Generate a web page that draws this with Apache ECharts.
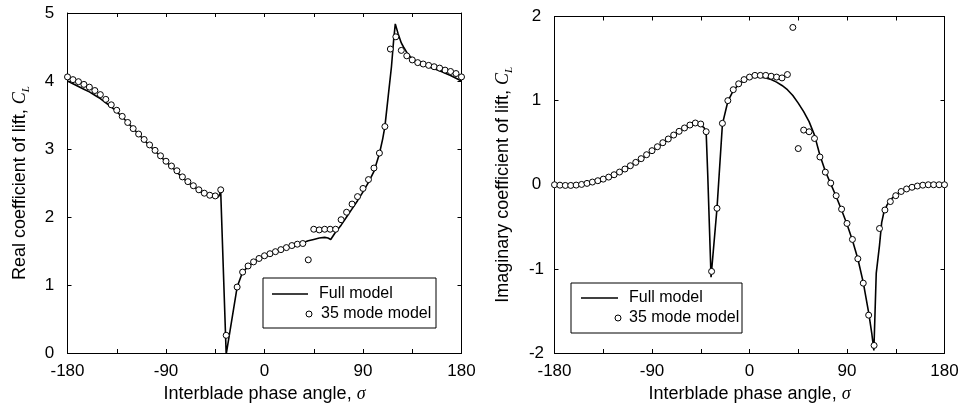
<!DOCTYPE html>
<html>
<head>
<meta charset="utf-8">
<script src="https://cdn.jsdelivr.net/npm/echarts@6/dist/echarts.min.js"></script>
<style>html,body{margin:0;padding:0;background:#fff}#c{width:963px;height:410px}</style>
</head>
<body>
<div id="c"></div>
<script>
// ---- data ----
const xTickLabels = [-180, -90, 0, 90, 180];

const modeSigma = [-180,-175,-170,-165,-160,-155,-150,-145,-140,-135,-130,-125,-120,-115,-110,-105,-100,-95,-90,-85,-80,-75,-70,-65,-60,-55,-50,-45,-40,-35,-30,-25,-20,-15,-10,-5,0,5,10,15,20,25,30,35,40,45,50,55,60,65,70,75,80,85,90,95,100,105,110,115,120,125,130,135,140,145,150,155,160,165,170,175,180];

const modeReal = [4.06,4.02,3.99,3.95,3.91,3.86,3.80,3.73,3.65,3.57,3.48,3.39,3.30,3.22,3.14,3.06,2.98,2.90,2.82,2.75,2.68,2.59,2.52,2.46,2.40,2.35,2.32,2.31,2.40,0.26,null,0.97,1.19,1.28,1.34,1.39,1.43,1.46,1.49,1.52,1.55,1.58,1.60,1.61,1.37,1.82,1.81,1.82,1.82,1.82,1.96,2.07,2.19,2.30,2.42,2.55,2.72,2.94,3.33,4.47,4.65,4.45,4.37,4.31,4.27,4.25,4.23,4.21,4.19,4.16,4.14,4.11,4.06];

const modeImag = [0.00,-0.005,-0.008,-0.008,-0.004,0.004,0.016,0.032,0.048,0.067,0.091,0.119,0.151,0.187,0.226,0.266,0.31,0.357,0.405,0.452,0.50,0.544,0.591,0.635,0.675,0.71,0.734,0.722,0.631,-1.03,-0.28,0.73,1.00,1.13,1.20,1.25,1.28,1.30,1.30,1.30,1.29,1.28,1.27,1.31,1.87,0.43,0.65,0.63,0.55,0.33,0.15,0.02,-0.13,-0.29,-0.46,-0.65,-0.88,-1.17,-1.55,-1.91,-0.52,-0.30,-0.20,-0.13,-0.08,-0.05,-0.03,-0.015,-0.005,0.0,0.0,0.0,0.0];

const fullRealSigma = [-180,-175,-170,-165,-160,-155,-150,-145,-140,-135,-130,-125,-120,-115,-110,-105,-100,-95,-90,-85,-80,-75,-70,-65,-60,-55,-50,-45,-42,-40,-35,-25,-20,-15,-10,-5,0,5,10,15,20,25,30,35,40,45,50,55,58,60.5,65,70,75,80,85,90,95,100,105,108,110,113,116,118,119.5,122,125,127,130,133,137,142,150,160,170,180];
const fullReal = [4.00,3.96,3.92,3.88,3.84,3.79,3.74,3.68,3.62,3.55,3.47,3.39,3.30,3.22,3.13,3.05,2.97,2.89,2.81,2.74,2.66,2.58,2.51,2.45,2.39,2.34,2.31,2.29,2.30,2.37,-0.02,0.97,1.19,1.27,1.33,1.38,1.42,1.45,1.48,1.51,1.54,1.57,1.60,1.62,1.65,1.67,1.69,1.70,1.69,1.67,1.78,1.88,2.00,2.12,2.24,2.37,2.51,2.67,2.93,3.15,3.33,3.77,4.21,4.60,4.84,4.70,4.56,4.50,4.42,4.36,4.31,4.26,4.21,4.15,4.08,4.00];

const fullImagSigma = [-180,-175,-170,-165,-160,-155,-150,-145,-140,-135,-130,-125,-120,-115,-110,-105,-100,-95,-90,-85,-80,-75,-70,-65,-60,-55,-50,-45,-42,-40,-38.5,-35.5,-30,-25,-20,-15,-10,-5,0,5,10,15,20,25,30,35,40,45,50,55,60,65,70,75,80,85,90,95,100,105,110,113,114.8,117,120,122,124,127,130,135,140,145,150,160,170,180];
const fullImag = [0.00,-0.01,-0.015,-0.015,-0.01,-0.005,0.005,0.02,0.035,0.055,0.08,0.105,0.14,0.175,0.215,0.26,0.30,0.35,0.40,0.445,0.49,0.54,0.585,0.63,0.67,0.70,0.72,0.71,0.68,0.62,0.10,-1.10,-0.28,0.72,0.99,1.12,1.19,1.24,1.27,1.28,1.28,1.27,1.25,1.22,1.18,1.13,1.06,0.97,0.87,0.75,0.59,0.35,0.16,0.01,-0.14,-0.30,-0.47,-0.66,-0.88,-1.16,-1.52,-1.78,-1.97,-1.05,-0.72,-0.45,-0.33,-0.24,-0.18,-0.12,-0.08,-0.05,-0.03,-0.01,0.0,0.0];

// ---- helpers ----
function pairs(xs, ys) {
  const out = [];
  for (let i = 0; i < xs.length; i++) if (ys[i] !== null) out.push([xs[i], ys[i]]);
  return out;
}
const FONT = 'Liberation Sans';
const axisLineStyle = { color: '#000', width: 1 };
function xAxes(grid) {
  return [
    { type: 'value', gridIndex: grid, position: 'bottom', min: -180, max: 180, interval: 45,
      axisLine: { onZero: false, lineStyle: axisLineStyle },
      axisTick: { inside: true, length: 4, lineStyle: axisLineStyle },
      axisLabel: { margin: 10, color: '#000', fontSize: 17, fontFamily: FONT,
        formatter: v => (xTickLabels.indexOf(v) >= 0 ? String(v) : '') },
      splitLine: { show: false },
      name: 'Interblade phase angle, {s|σ}', nameLocation: 'middle', nameGap: 31,
      nameTextStyle: { color: '#000', fontSize: 18, fontFamily: FONT,
        rich: { s: { fontFamily: 'Liberation Serif', fontStyle: 'italic', fontSize: 18, color: '#000' } } } },
    { type: 'value', gridIndex: grid, position: 'top', min: -180, max: 180, interval: 45,
      axisLine: { onZero: false, lineStyle: axisLineStyle },
      axisTick: { inside: true, length: 4, lineStyle: axisLineStyle },
      axisLabel: { show: false }, splitLine: { show: false } }
  ];
}
function yAxes(grid, min, max, title, gap) {
  return [
    { type: 'value', gridIndex: grid, position: 'left', min: min, max: max, interval: 1,
      axisLine: { show: true, onZero: false, lineStyle: axisLineStyle },
      axisTick: { show: true, inside: true, length: 4, lineStyle: axisLineStyle },
      axisLabel: { margin: 18, align: 'center', color: '#000', fontSize: 17, fontFamily: FONT },
      splitLine: { show: false },
      name: title + ', {c|C}{l|L}', nameLocation: 'middle', nameGap: gap,
      nameTextStyle: { color: '#000', fontSize: 18, fontFamily: FONT, lineHeight: 22,
        rich: {
          c: { fontFamily: 'Liberation Serif', fontStyle: 'italic', fontSize: 18, color: '#000', lineHeight: 22 },
          l: { fontFamily: 'Liberation Serif', fontStyle: 'italic', fontSize: 11, color: '#000', verticalAlign: 'bottom', lineHeight: 22, padding: [4, 0, 0, 0] }
        } } },
    { type: 'value', gridIndex: grid, position: 'right', min: min, max: max, interval: 1,
      axisLine: { show: true, onZero: false, lineStyle: axisLineStyle },
      axisTick: { show: true, inside: true, length: 4, lineStyle: axisLineStyle },
      axisLabel: { show: false }, splitLine: { show: false } }
  ];
}
function legends(lineLeft, lineLen, rowTop, circleLeft, textPad2) {
  const ts = { color: '#000', fontSize: 16, fontFamily: FONT, lineHeight: 16 };
  return [
    { data: [{ name: 'Full model', icon: 'rect', itemStyle: { color: '#000' } }],
      left: lineLeft, top: rowTop, padding: 0, itemWidth: lineLen, itemHeight: 1.6,
      textStyle: Object.assign({}, ts, { padding: [0, 0, 0, 6] }), selectedMode: false },
    { data: [{ name: '35 mode model', icon: 'circle', itemStyle: { color: '#fff', borderColor: '#000', borderWidth: 1 } }],
      left: circleLeft, top: rowTop + 20, padding: 0, itemWidth: 6, itemHeight: 6,
      textStyle: Object.assign({}, ts, { padding: [0, 0, 0, textPad2] }), selectedMode: false }
  ];
}
function lineSeries(xi, yi, data) {
  return { name: 'Full model', type: 'line', xAxisIndex: xi, yAxisIndex: yi, data: data,
    showSymbol: false, symbol: 'none', smooth: false, clip: true, animation: false, z: 2,
    lineStyle: { color: '#000', width: 1.6 }, itemStyle: { color: '#000' } };
}
function scatterSeries(xi, yi, data) {
  return { name: '35 mode model', type: 'scatter', xAxisIndex: xi, yAxisIndex: yi, data: data,
    symbol: 'circle', symbolSize: 6, clip: true, animation: false, z: 3,
    itemStyle: { color: '#fff', borderColor: '#000', borderWidth: 1, opacity: 1 } };
}

const chart = echarts.init(document.getElementById('c'), null, { renderer: 'canvas' });
chart.setOption({
  backgroundColor: '#fff',
  animation: false,
  grid: [
    { left: 67.5, right: 501.5, top: 13, bottom: 57 },
    { left: 554.5, right: 18.5, top: 16.5, bottom: 57 }
  ],
  xAxis: xAxes(0).concat(xAxes(1)),
  yAxis: yAxes(0, 0, 5, 'Real coefficient of lift', 36).concat(yAxes(1, -2, 2, 'Imaginary coefficient of lift', 40)),
  legend: legends(272, 36, 286, 305.5, 4).concat(legends(581, 37, 290, 614.5, 3)),
  graphic: [
    { type: 'rect', shape: { x: 263, y: 278, width: 173, height: 50 }, style: { fill: 'none', stroke: '#000', lineWidth: 1 }, z: 10 },
    { type: 'rect', shape: { x: 571, y: 283, width: 171, height: 50 }, style: { fill: 'none', stroke: '#000', lineWidth: 1 }, z: 10 }
  ],
  series: [
    lineSeries(0, 0, pairs(fullRealSigma, fullReal)),
    scatterSeries(0, 0, pairs(modeSigma, modeReal)),
    lineSeries(2, 2, pairs(fullImagSigma, fullImag)),
    scatterSeries(2, 2, pairs(modeSigma, modeImag))
  ]
});
</script>
</body>
</html>
